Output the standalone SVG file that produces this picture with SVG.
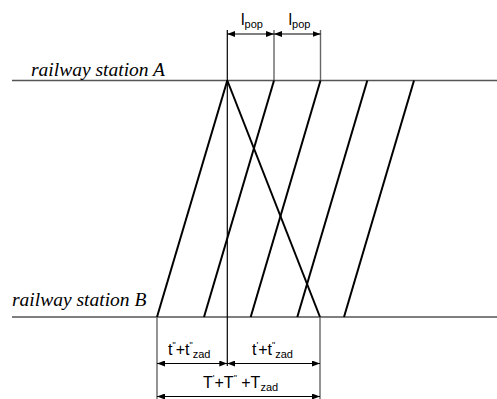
<svg xmlns="http://www.w3.org/2000/svg" width="497" height="399" viewBox="0 0 497 399">
<defs>
<marker id="ah" viewBox="0 0 8 6" refX="8" refY="3" markerWidth="8" markerHeight="6" markerUnits="userSpaceOnUse" orient="auto-start-reverse">
<path d="M0,0 L8,3 L0,6 z" fill="#000"/>
</marker>
</defs>
<style>
.st{stroke:#555;stroke-width:1.6;fill:none}
.tr{stroke:#000;stroke-width:2;fill:none}
.ext{stroke:#666;stroke-width:1.4;fill:none}
.ax{stroke:#000;stroke-width:1.2;fill:none}
.dim{stroke:#000;stroke-width:1.2;fill:none;marker-start:url(#ah);marker-end:url(#ah)}
.lab{font-family:"Liberation Serif","Times New Roman",serif;font-style:italic;font-size:19.5px;fill:#000}
.t{font-family:"Liberation Sans",Arial,sans-serif;font-size:16px;fill:#000}
.sub{font-size:11px}
.sup{font-size:9px}
</style>
<g id="stationA">
<line class="st" x1="12" y1="80.5" x2="497" y2="80.5"/>
<text class="lab" x="31" y="76">railway station A</text>
</g>
<g id="stationB">
<line class="st" x1="12" y1="317" x2="497" y2="317"/>
<text class="lab" x="12" y="306">railway station B</text>
</g>
<g id="connectors">
<line class="tr" x1="157" y1="317" x2="227.3" y2="80.5"/>
<line class="tr" x1="227.3" y1="80.5" x2="320" y2="317"/>
<line class="tr" x1="204" y1="317" x2="274" y2="80.5"/>
<line class="tr" x1="250.7" y1="317" x2="320.5" y2="80.5"/>
<line class="tr" x1="297.3" y1="317" x2="367.3" y2="80.5"/>
<line class="tr" x1="344" y1="317" x2="414" y2="80.5"/>
<line class="ax" x1="227.3" y1="30" x2="227.3" y2="366"/>
<line class="ext" x1="274" y1="30" x2="274" y2="80"/>
<line class="ext" x1="320.5" y1="30" x2="320.5" y2="80"/>
<line class="ext" x1="157" y1="317" x2="157" y2="399"/>
<line class="ext" x1="320" y1="317" x2="320" y2="399"/>
<line class="dim" x1="227.3" y1="34" x2="274" y2="34"/>
<line class="dim" x1="274" y1="34" x2="320.5" y2="34"/>
<line class="dim" x1="157" y1="363.5" x2="227.3" y2="363.5"/>
<line class="dim" x1="227.3" y1="363.5" x2="320" y2="363.5"/>
<line class="dim" x1="157" y1="396.5" x2="320" y2="396.5"/>
</g>
<g id="labels">
<text class="t" x="241" y="24.5">l<tspan class="sub" dy="3">pop</tspan></text>
<text class="t" x="288.5" y="24.5">l<tspan class="sub" dy="3">pop</tspan></text>
<text class="t" x="168" y="355">t<tspan class="sup" dy="-7">"</tspan><tspan dy="7">+t</tspan><tspan class="sup" dy="-7">"</tspan><tspan class="sub" dy="10">zad</tspan></text>
<text class="t" x="252" y="355">t<tspan class="sup" dy="-7">'</tspan><tspan dy="7">+t</tspan><tspan class="sup" dy="-7">"</tspan><tspan class="sub" dy="10">zad</tspan></text>
<text class="t" x="203" y="388">T<tspan class="sup" dy="-7">'</tspan><tspan dy="7">+T</tspan><tspan class="sup" dy="-7">"</tspan><tspan dy="7"> +T</tspan><tspan class="sub" dy="3">zad</tspan></text>
</g>
</svg>
